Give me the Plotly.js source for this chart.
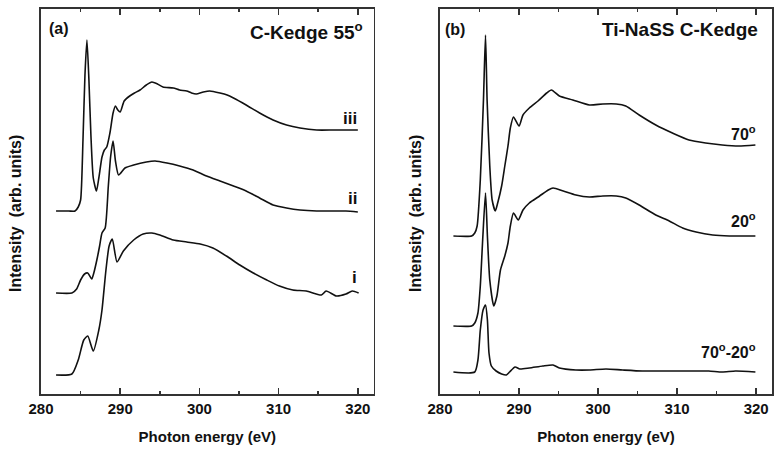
<!DOCTYPE html>
<html>
<head>
<meta charset="utf-8">
<script src="https://cdn.plot.ly/plotly-3.0.1.min.js"></script>
<style>
  body { margin: 0; background: #fff; }
  #plot { width: 780px; height: 454px; }
</style>
</head>
<body>
<div id="plot"></div>
<script>
// (a) C-Kedge 55 deg, three samples, offset stacked (arb. units)
const eIII = [281.9, 283.5, 284.3, 284.7, 285.0, 285.3, 285.55, 285.8, 286.05, 286.3, 286.6, 287.0, 287.3, 287.7, 288.0, 288.3, 288.7, 289.1, 289.4, 289.7, 290.0, 290.5, 291.2, 291.8, 292.5, 293.3, 294.0, 294.7, 295.4, 296.7, 297.5, 298.4, 299.0, 299.6, 300.5, 301.3, 302.6, 303.5, 304.3, 305.9, 307.6, 309.3, 311.0, 312.7, 314.8, 316.9, 318.5, 320.0];
const iIII = [1.83, 1.83, 1.83, 1.87, 1.94, 2.54, 3.19, 3.54, 3.14, 2.59, 2.16, 2.03, 2.16, 2.37, 2.44, 2.47, 2.61, 2.81, 2.88, 2.84, 2.82, 2.93, 2.98, 3.01, 3.04, 3.09, 3.12, 3.10, 3.07, 3.06, 3.04, 3.03, 3.01, 3.00, 3.02, 3.03, 3.01, 2.99, 2.96, 2.89, 2.81, 2.74, 2.69, 2.66, 2.64, 2.64, 2.64, 2.64];

const eII = [281.9, 283.9, 284.5, 285.0, 285.5, 285.9, 286.4, 286.7, 287.05, 287.4, 287.7, 288.1, 288.5, 288.8, 289.1, 289.4, 289.8, 290.6, 291.7, 293.3, 294.4, 295.9, 297.5, 299.2, 300.9, 302.6, 304.3, 305.9, 307.6, 309.3, 311.0, 312.7, 314.8, 316.9, 318.5, 320.0];
const iII = [1.01, 1.01, 1.05, 1.14, 1.20, 1.21, 1.15, 1.22, 1.34, 1.48, 1.61, 1.66, 2.08, 2.38, 2.53, 2.33, 2.19, 2.26, 2.29, 2.32, 2.33, 2.31, 2.28, 2.24, 2.18, 2.13, 2.08, 2.03, 1.96, 1.89, 1.86, 1.84, 1.83, 1.83, 1.83, 1.82];

const eI = [281.9, 283.9, 284.7, 285.4, 285.9, 286.6, 287.3, 287.7, 288.2, 288.6, 289.0, 289.6, 290.4, 291.7, 292.9, 294.0, 295.0, 296.7, 298.4, 300.1, 301.7, 303.4, 305.1, 306.8, 308.5, 310.1, 311.8, 313.5, 315.4, 316.0, 317.3, 318.5, 319.3, 320.1];
const iI = [0.19, 0.20, 0.34, 0.54, 0.58, 0.43, 0.64, 0.84, 1.24, 1.48, 1.55, 1.32, 1.43, 1.54, 1.60, 1.61, 1.59, 1.54, 1.52, 1.50, 1.46, 1.38, 1.29, 1.21, 1.14, 1.08, 1.04, 1.03, 0.99, 1.03, 0.98, 1.00, 1.03, 1.01];

// (b) Ti-NaSS C-Kedge at 70 and 20 deg, and their difference
const e70 = [281.7, 284.0, 284.4, 284.7, 285.1, 285.5, 285.76, 285.96, 286.3, 286.6, 287.0, 287.3, 287.8, 288.2, 288.6, 288.9, 289.3, 290.0, 290.5, 291.3, 292.4, 293.5, 294.1, 295.1, 296.8, 298.9, 300.6, 302.3, 303.5, 305.2, 307.3, 309.4, 311.5, 313.6, 315.7, 317.8, 319.9];
const i70 = [1.58, 1.58, 1.61, 1.68, 2.14, 2.94, 3.59, 2.94, 2.28, 1.94, 1.83, 1.91, 2.08, 2.28, 2.48, 2.66, 2.77, 2.68, 2.79, 2.86, 2.93, 3.01, 3.04, 2.98, 2.94, 2.89, 2.90, 2.90, 2.88, 2.79, 2.69, 2.61, 2.54, 2.51, 2.49, 2.48, 2.49];

const e20 = [281.7, 284.0, 284.4, 284.8, 285.1, 285.4, 285.76, 286.0, 286.3, 286.8, 287.2, 287.65, 288.2, 288.6, 288.9, 289.3, 289.9, 290.5, 291.3, 292.6, 293.7, 294.3, 295.6, 297.2, 298.9, 300.6, 302.3, 303.5, 305.2, 307.3, 309.0, 310.7, 312.4, 314.5, 316.6, 319.9];
const i20 = [0.68, 0.68, 0.71, 0.81, 1.08, 1.54, 2.01, 1.58, 1.14, 0.88, 0.98, 1.24, 1.38, 1.51, 1.68, 1.81, 1.74, 1.84, 1.91, 1.98, 2.04, 2.06, 2.03, 1.99, 1.97, 1.98, 1.98, 1.96, 1.89, 1.79, 1.73, 1.66, 1.62, 1.59, 1.58, 1.58];

const eDiff = [281.7, 284.4, 284.8, 285.1, 285.45, 285.76, 286.0, 286.2, 286.5, 287.1, 287.8, 288.4, 288.8, 289.5, 290.1, 291.3, 293.0, 294.3, 295.1, 297.2, 298.9, 301.0, 303.1, 305.6, 308.2, 311.5, 314.0, 315.7, 317.4, 319.9];
const iDiff = [0.22, 0.22, 0.34, 0.64, 0.84, 0.89, 0.74, 0.41, 0.28, 0.23, 0.20, 0.19, 0.22, 0.27, 0.25, 0.26, 0.28, 0.29, 0.26, 0.24, 0.24, 0.25, 0.24, 0.23, 0.23, 0.23, 0.23, 0.22, 0.23, 0.22];

const xTickVals = [280, 290, 300, 310, 320];

const font = 'Liberation Sans, Arial, sans-serif';

function curve(x, y, xa, ya) {
    return {
        x: x, y: y, xaxis: xa, yaxis: ya,
        type: 'scatter', mode: 'lines',
        line: { color: '#111', width: 1.6, shape: 'spline', smoothing: 0.6 },
        hoverinfo: 'skip', showlegend: false
    };
}

const data = [
    curve(eIII, iIII, 'x', 'y'),
    curve(eII, iII, 'x', 'y'),
    curve(eI, iI, 'x', 'y'),
    curve(e70, i70, 'x2', 'y2'),
    curve(e20, i20, 'x2', 'y2'),
    curve(eDiff, iDiff, 'x2', 'y2')
];

function xAxis(domain, anchor) {
    return {
        domain: domain, anchor: anchor,
        range: [280, 322], tickvals: xTickVals,
        ticks: 'inside', ticklen: 6, tickwidth: 1.5, tickcolor: '#333',
        minor: { dtick: 5, tick0: 280, ticks: 'inside', ticklen: 3, tickwidth: 1.5, tickcolor: '#333' },
        showline: true, linecolor: '#333', linewidth: 1.6, mirror: 'ticks',
        showgrid: false, zeroline: false,
        tickfont: { family: font, size: 15, color: '#111', weight: 'bold' },
        title: { text: 'Photon energy (eV)', font: { family: font, size: 15, color: '#111', weight: 'bold' }, standoff: 16 }
    };
}

function yAxis(anchor) {
    return {
        anchor: anchor, range: [0, 3.85],
        showline: true, linecolor: '#333', linewidth: 1.6, mirror: true,
        showticklabels: false, ticks: '', showgrid: false, zeroline: false
    };
}

function label(text, x, y, xref, yref, xanchor, size) {
    return {
        text: text, x: x, y: y, xref: xref, yref: yref,
        xanchor: xanchor, yanchor: 'middle', showarrow: false,
        font: { family: font, size: size, color: '#111', weight: 'bold' }
    };
}

const yTitle = 'Intensity\u00a0\u00a0(arb. units)';

const layout = {
    width: 780, height: 454,
    margin: { l: 41, r: 8, t: 9, b: 60 },
    paper_bgcolor: '#fff', plot_bgcolor: '#fff',
    xaxis: xAxis([0, 0.4551], 'y'),
    yaxis: yAxis('x'),
    xaxis2: xAxis([0.5458, 1], 'y2'),
    yaxis2: yAxis('x2'),
    annotations: [
        label('(a)', 0.018, 0.949, 'x domain', 'y domain', 'left', 16),
        label('C-Kedge 55<sup>o</sup>', 0.974, 0.942, 'x domain', 'y domain', 'right', 19),
        label('iii', 320.1, 2.76, 'x', 'y', 'right', 17),
        label('ii', 320.1, 1.96, 'x', 'y', 'right', 17),
        label('i', 320.1, 1.17, 'x', 'y', 'right', 17),
        label('(b)', 0.01, 0.946, 'x2 domain', 'y2 domain', 'left', 16),
        label('Ti-NaSS C-Kedge', 0.963, 0.946, 'x2 domain', 'y2 domain', 'right', 19),
        label('70<sup>o</sup>', 320.2, 2.61, 'x2', 'y2', 'right', 16),
        label('20<sup>o</sup>', 320.2, 1.74, 'x2', 'y2', 'right', 16),
        label('70<sup>o</sup>-20<sup>o</sup>', 320.2, 0.43, 'x2', 'y2', 'right', 16),
        Object.assign(label(yTitle, -0.0356, 0.47, 'paper', 'paper', 'center', 16), { textangle: -90 }),
        Object.assign(label(yTitle, 0.5116, 0.47, 'paper', 'paper', 'center', 16), { textangle: -90 })
    ]
};

Plotly.newPlot('plot', data, layout, { displayModeBar: false, staticPlot: true });
</script>
</body>
</html>
